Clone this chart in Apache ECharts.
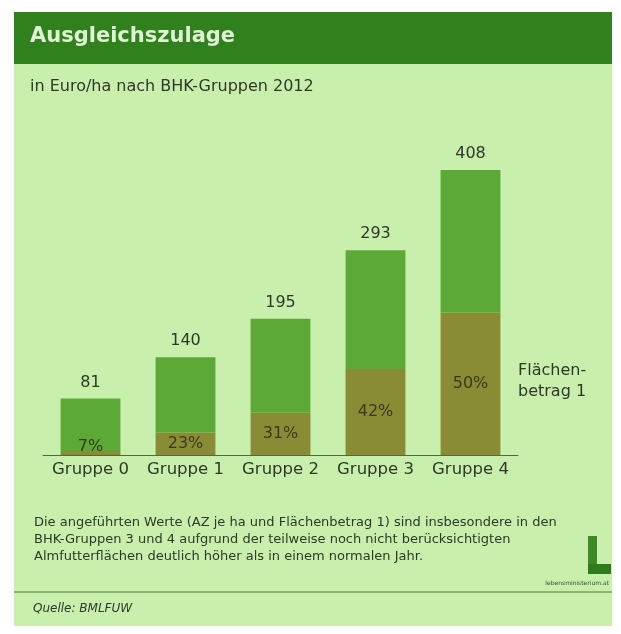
<!DOCTYPE html>
<html>
<head>
<meta charset="utf-8">
<script src="https://cdn.jsdelivr.net/npm/echarts@6/dist/echarts.min.js"></script>
<style>
  html, body { margin: 0; padding: 0; background: #ffffff; }
  #chart { width: 621px; height: 634px; }
</style>
</head>
<body>
<div id="chart"></div>
<script>
// Ausgleichszulage in Euro/ha by BHK group, 2012
const categories = ['Gruppe 0', 'Gruppe 1', 'Gruppe 2', 'Gruppe 3', 'Gruppe 4'];
const totals = [81, 140, 195, 293, 408];
// share of Flächenbetrag 1 in the total, in percent
const shareFlaeche = [7, 23, 31, 42, 50];

const flaeche = totals.map((t, i) => +(t * shareFlaeche[i] / 100).toFixed(2));
const rest = totals.map((t, i) => +(t - flaeche[i]).toFixed(2));

const FONT = '"DejaVu Sans", Verdana, sans-serif';
const TEXT = '#2f382a';

const chart = echarts.init(document.getElementById('chart'), null, { renderer: 'canvas' });

chart.setOption({
  backgroundColor: '#ffffff',
  animation: false,
  graphic: [
    // panel background
    { type: 'rect', z: -10, shape: { x: 14, y: 12, width: 598, height: 614 }, style: { fill: '#c8efab' } },
    // title band
    { type: 'rect', z: -9, shape: { x: 14, y: 12, width: 598, height: 52 }, style: { fill: '#31801e' } },
    { type: 'text', left: 30, top: 26, style: { text: 'Ausgleichszulage', fill: '#dff2d4', font: 'bold 21px ' + FONT } },
    { type: 'text', left: 30, top: 79, style: { text: 'in Euro/ha nach BHK-Gruppen 2012', fill: TEXT, font: '16px ' + FONT } },
    // series annotation
    { type: 'text', left: 518, top: 360, style: { text: 'Flächen-\nbetrag 1', fill: TEXT, font: '16px ' + FONT, lineHeight: 21 } },
    // footnote
    { type: 'text', left: 34, top: 514, style: {
        text: 'Die angeführten Werte (AZ je ha und Flächenbetrag 1) sind insbesondere in den\nBHK-Gruppen 3 und 4 aufgrund der teilweise noch nicht berücksichtigten\nAlmfutterflächen deutlich höher als in einem normalen Jahr.',
        fill: TEXT, font: '13px ' + FONT, lineHeight: 17 } },
    // logo mark
    { type: 'rect', shape: { x: 588, y: 536, width: 9, height: 38 }, style: { fill: '#3f8a22' } },
    { type: 'rect', shape: { x: 588, y: 564, width: 23, height: 10 }, style: { fill: '#2f7a1a' } },
    { type: 'text', right: 12, top: 580, style: { text: 'lebensministerium.at', fill: '#3a4a30', font: '6px ' + FONT } },
    // separator and source
    { type: 'line', shape: { x1: 14, y1: 592, x2: 612, y2: 592 }, style: { stroke: '#4d7a3a', lineWidth: 1 } },
    { type: 'text', left: 33, top: 603, style: { text: 'Quelle: BMLFUW', fill: TEXT, font: 'italic 12px ' + FONT } }
  ],
  grid: { left: 43, width: 475, top: 100, bottom: 634 - 455 },
  xAxis: {
    type: 'category',
    data: categories,
    axisLine: { lineStyle: { color: '#4d6a40', width: 1 } },
    axisTick: { show: false },
    axisLabel: { interval: 0, hideOverlap: false, color: TEXT, fontSize: 16.5, fontFamily: FONT, margin: 6 }
  },
  yAxis: {
    type: 'value',
    min: 0,
    max: 508,
    show: false,
    splitLine: { show: false }
  },
  series: [
    {
      name: 'Flächenbetrag 1',
      type: 'bar',
      stack: 'az',
      barWidth: '63%',
      itemStyle: { color: '#898c34' },
      data: flaeche.map((v, i) => ({
        value: v,
        label: i === 0 ? { position: 'insideBottom', distance: 0 } : {}
      })),
      label: {
        show: true,
        position: 'inside',
        formatter: p => shareFlaeche[p.dataIndex] + '%',
        color: '#3a3a1a',
        fontSize: 16,
        fontFamily: FONT
      }
    },
    {
      name: 'Ausgleichszulage',
      type: 'bar',
      stack: 'az',
      itemStyle: { color: '#5da937' },
      data: rest,
      label: {
        show: true,
        position: 'top',
        distance: 8,
        formatter: p => String(totals[p.dataIndex]),
        color: TEXT,
        fontSize: 16,
        fontFamily: FONT
      }
    }
  ]
});
</script>
</body>
</html>
